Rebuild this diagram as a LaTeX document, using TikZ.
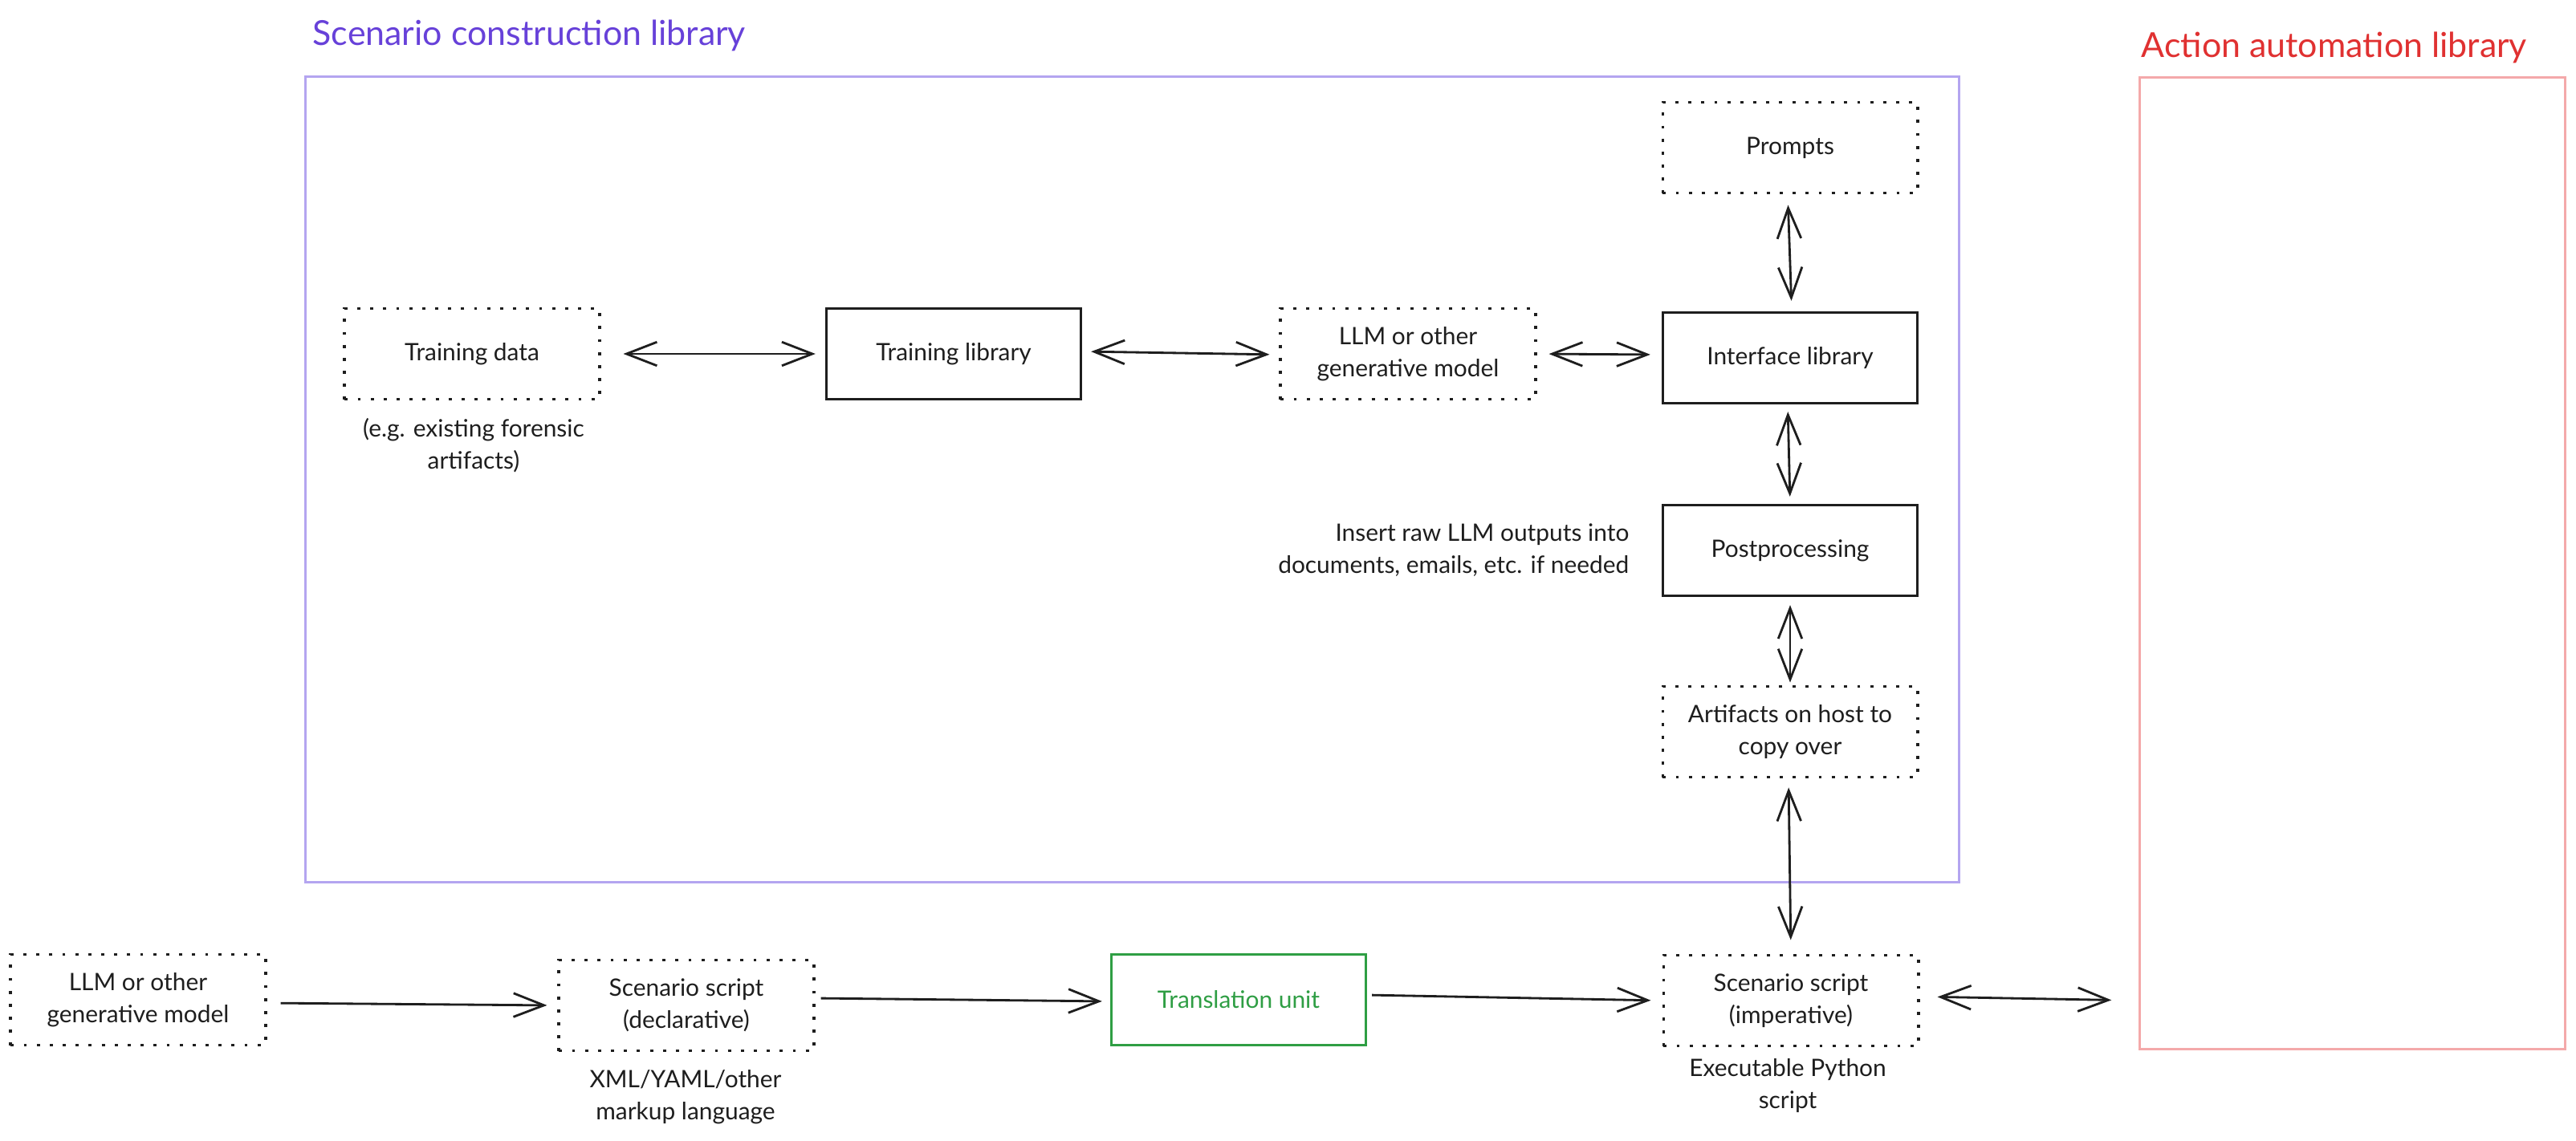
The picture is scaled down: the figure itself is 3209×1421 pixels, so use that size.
\documentclass[tikz,border=0pt]{standalone}
\usepackage{fontspec}
\setmainfont{Lato}
\usetikzlibrary{arrows.meta}
\definecolor{ink}{HTML}{1E1E1E}
\definecolor{violetT}{HTML}{6741D9}
\definecolor{violetB}{HTML}{B4A5F0}
\definecolor{redT}{HTML}{E03131}
\definecolor{redB}{HTML}{F4A9AA}
\definecolor{greenT}{HTML}{2F9E44}
\newcommand{\nfont}{\fontsize{8.5}{11.4}\selectfont}
\newcommand{\tfont}{\fontsize{12.2}{14}\selectfont}
\tikzset{
  box/.style={draw=ink, line width=0.9pt, minimum width=3.17cm, minimum height=1.13cm,
    text=ink, font=\nfont, align=center, inner sep=0pt},
  dotbox/.style={box, line width=1.1pt, dash pattern=on 1.1pt off 3.5pt},
  caption/.style={text=ink, font=\nfont, align=center, inner sep=0pt},
  conn/.style={draw=ink, line width=0.8pt},
  tip/.tip={Straight Barb[length=10.8pt, width=8.4pt, line width=0.8pt]},
  bi/.style={conn, tip-tip},
  uni/.style={conn, -tip},
  title/.style={font=\tfont, anchor=base west, inner sep=0pt},
}
\begin{document}
\begin{tikzpicture}[x=0.01cm, y=-0.01cm]
\useasboundingbox[fill=white] (0,0) rectangle (3209,1421);

% group frames
\node[draw=violetB, line width=0.9pt, minimum width=20.59cm, minimum height=10.03cm, inner sep=0pt] (scl) at (1410.5,597.5) {};
\node[draw=redB, line width=0.9pt, minimum width=5.29cm, minimum height=12.10cm, inner sep=0pt] (aal) at (2930.5,702) {};
\node[title, text=violetT] (sclT) at (389,57) {Scenario construction library};
\node[title, text=redT] (aalT) at (2667,71) {Action automation library};

% upper nodes
\node[dotbox] (tdata) at (588,441) {Training data};
\node[caption] (tcap) at (590,555) {(e.g. existing forensic\\artifacts)};
\node[box] (tlib) at (1188,441) {Training library};
\node[dotbox] (llm1) at (1754,441) {LLM or other\\generative model};
\node[box] (ilib) at (2230,446) {Interface library};
\node[dotbox] (prompts) at (2230,184) {Prompts};
\node[box] (post) at (2230,686) {Postprocessing};
\node[caption, anchor=east, align=right] (pcap) at (2030,686) {Insert raw LLM outputs into\\documents, emails, etc. if needed};
\node[dotbox] (arti) at (2230,912) {Artifacts on host to\\copy over};

% lower nodes
\node[dotbox] (llm2) at (172,1246) {LLM or other\\generative model};
\node[dotbox] (decl) at (855,1253) {Scenario script\\(declarative)};
\node[caption] (dcap) at (854,1367) {XML/YAML/other\\markup language};
\node[box, draw=greenT, text=greenT] (trans) at (1543,1246) {Translation unit};
\node[dotbox] (imp) at (2231,1247) {Scenario script\\(imperative)};
\node[caption] (icap) at (2227,1353) {Executable Python\\script};

% connectors
\draw[bi, shorten <=0.28cm, shorten >=0.12cm] (tdata.east) -- (tlib.west);
\draw[bi, shorten <=0.11cm, shorten >=0.12cm] ([yshift=0.03cm]tlib.east) -- ([yshift=-0.01cm]llm1.west);
\draw[bi, shorten <=0.15cm, shorten >=0.14cm] (llm1.east) -- ([yshift=0.04cm]ilib.west);
\draw[bi, shorten <=0.13cm, shorten >=0.13cm] ([xshift=-0.03cm]prompts.south) -- ([xshift=0.02cm]ilib.north);
\draw[bi, shorten <=0.09cm, shorten >=0.09cm] ([xshift=-0.03cm]ilib.south) -- (post.north);
\draw[bi, shorten <=0.10cm, shorten >=0.03cm] (post.south) -- (arti.north);
\draw[bi, shorten <=0.11cm, shorten >=0.17cm] ([xshift=-0.02cm]arti.south) -- (imp.north);
\draw[uni, shorten <=0.17cm, shorten >=0.13cm] ([yshift=-0.04cm]llm2.east) -- (decl.west);
\draw[uni, shorten <=0.07cm, shorten >=0.10cm] ([yshift=0.09cm]decl.east) -- ([yshift=-0.02cm]trans.west);
\draw[uni, shorten <=0.06cm, shorten >=0.14cm] ([yshift=0.06cm]trans.east) -- (imp.west);
\draw[bi, shorten <=0.22cm, shorten >=0.34cm] ([yshift=0.05cm]imp.east) -- (aal.west |- imp.east);
\end{tikzpicture}
\end{document}
